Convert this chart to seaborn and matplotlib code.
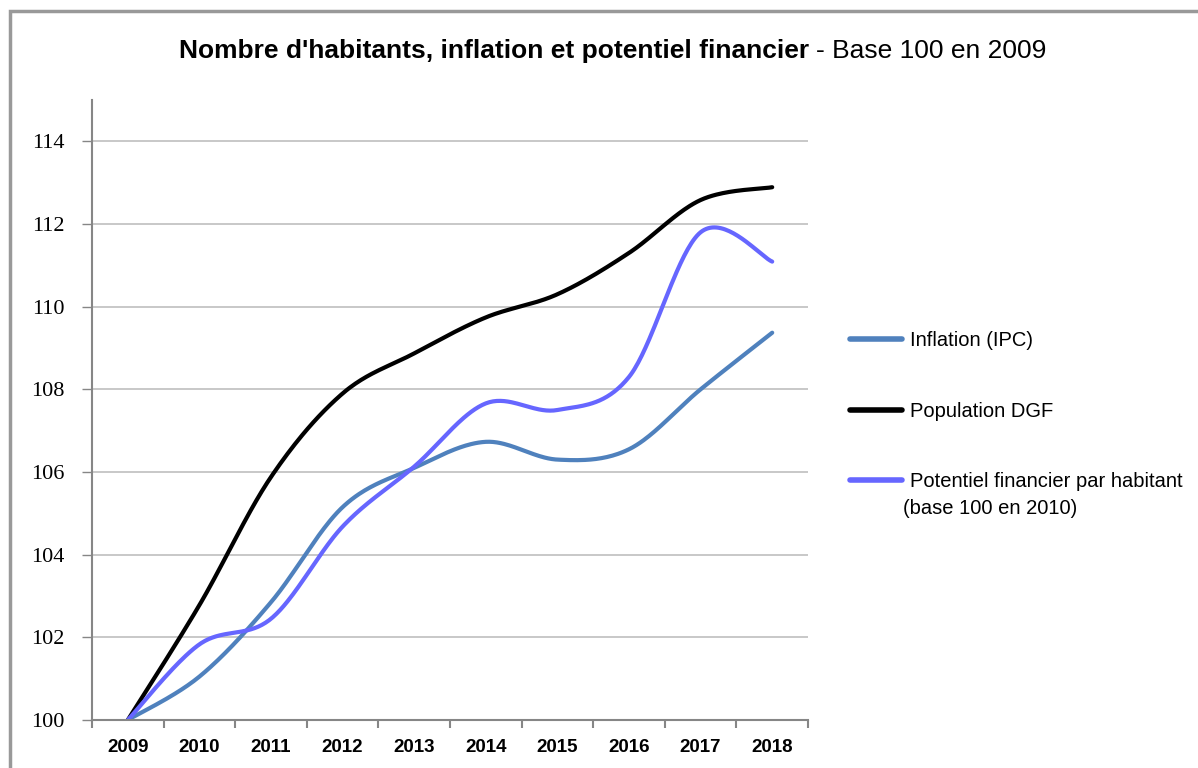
import numpy as np
import pandas as pd
import seaborn as sns
import matplotlib.pyplot as plt
from matplotlib.patches import Rectangle
from matplotlib.ticker import FixedLocator

# donnees
annees = ['2009', '2010', '2011', '2012', '2013', '2014', '2015', '2016', '2017', '2018']
inflation = [100, 101.05, 102.85, 105.15, 106.1, 106.73, 106.3, 106.55, 108.0, 109.37]
population = [100, 102.78, 105.88, 107.9, 108.87, 109.74, 110.3, 111.3, 112.58, 112.89]
potentiel = [100, 101.83, 102.45, 104.68, 106.13, 107.66, 107.5, 108.3, 111.8, 111.09]

noms = ['Inflation (IPC)', 'Population DGF', 'Potentiel financier par habitant']
couleurs = ['#4F81BD', '#000000', '#6666FF']


# courbe lissee facon excel (bezier catmull-rom) passant par les points
def lisse(y, n=40):
    p = np.column_stack([np.arange(len(y)), np.array(y, dtype=float)])
    xs, ys = [], []
    for i in range(len(p) - 1):
        p0 = p[i - 1] if i > 0 else p[i]
        p1 = p[i]
        p2 = p[i + 1]
        p3 = p[i + 2] if i + 2 < len(p) else p[i + 1]
        c1 = p1 + (p2 - p0) / 6
        c2 = p2 - (p3 - p1) / 6
        t = np.linspace(0, 1, n)[:, None]
        b = (1 - t)**3 * p1 + 3 * (1 - t)**2 * t * c1 + 3 * (1 - t) * t**2 * c2 + t**3 * p2
        xs.extend(b[:, 0])
        ys.extend(b[:, 1])
    return xs, ys


frames = []
for nom, serie in zip(noms, [inflation, population, potentiel]):
    xs, ys = lisse(serie)
    frames.append(pd.DataFrame({'x': xs, 'y': ys, 'serie': nom}))
df = pd.concat(frames, ignore_index=True)

sns.set_style('white')
plt.rcParams['font.family'] = ['Liberation Sans', 'DejaVu Sans']
plt.rcParams['text.color'] = 'black'
plt.rcParams['xtick.color'] = 'black'
plt.rcParams['ytick.color'] = 'black'

fig = plt.figure(figsize=(11.98, 7.68), dpi=100)
ax = fig.add_axes([92 / 1198, 1 - 720 / 768, (808 - 92) / 1198, (720 - 100) / 768])

sns.lineplot(data=df, x='x', y='y', hue='serie', palette=couleurs, sort=False,
             estimator=None, linewidth=3, ax=ax, legend=False)

ax.set_xlim(-0.5, len(annees) - 0.5)
ax.set_ylim(100, 115)
ax.set_xlabel('')
ax.set_ylabel('')

# axe y
ax.set_yticks(np.arange(100, 115, 2))
ax.set_yticklabels([str(v) for v in range(100, 115, 2)], family='Liberation Serif', fontsize=16)
ax.yaxis.grid(True, color='#BFBFBF', linewidth=1.2)
ax.tick_params(axis='y', length=7, width=1, color='#868686', labelcolor='black', pad=13, left=True)

# axe x : etiquettes au centre, graduations entre categories
ax.set_xticks(range(len(annees)))
ax.set_xticklabels(annees, fontweight='bold', fontsize=13.5)
ax.xaxis.set_minor_locator(FixedLocator(np.arange(-0.5, len(annees), 1)))
ax.tick_params(axis='x', which='major', length=0, pad=14, labelcolor='black')
ax.tick_params(axis='x', which='minor', length=6, width=1.5, color='#868686', bottom=True)

for s in ['top', 'right']:
    ax.spines[s].set_visible(False)
for s in ['left', 'bottom']:
    ax.spines[s].set_color('#868686')
    ax.spines[s].set_linewidth(1.5)

# legende
h = [plt.Line2D([], [], color=c, linewidth=4) for c in couleurs]
leg = fig.legend(h, noms, loc='upper left', bbox_to_anchor=(832 / 1198, 1 - 313 / 768),
                 frameon=False, fontsize=14.5, labelspacing=2.56, handlelength=2.6,
                 handletextpad=0.35)
fig.text(903 / 1198, 1 - 509 / 768, '(base 100 en 2010)', fontsize=14.5, va='center', ha='left')

# titre (partie grasse + partie normale)
fig.text(809 / 1198, 1 - 51 / 768, "Nombre d'habitants, inflation et potentiel financier",
         fontsize=19, fontweight='bold', ha='right', va='center')
fig.text(816 / 1198, 1 - 51 / 768, '- Base 100 en 2009',
         fontsize=19, ha='left', va='center')

# cadre du graphique
fig.add_artist(Rectangle((9.5 / 1198, -0.1), 1.2, 1.1 - 11 / 768,
                         transform=fig.transFigure, fill=False, edgecolor='#999999', linewidth=2.5))

fig.savefig('out.png', dpi=100)
plt.close()
